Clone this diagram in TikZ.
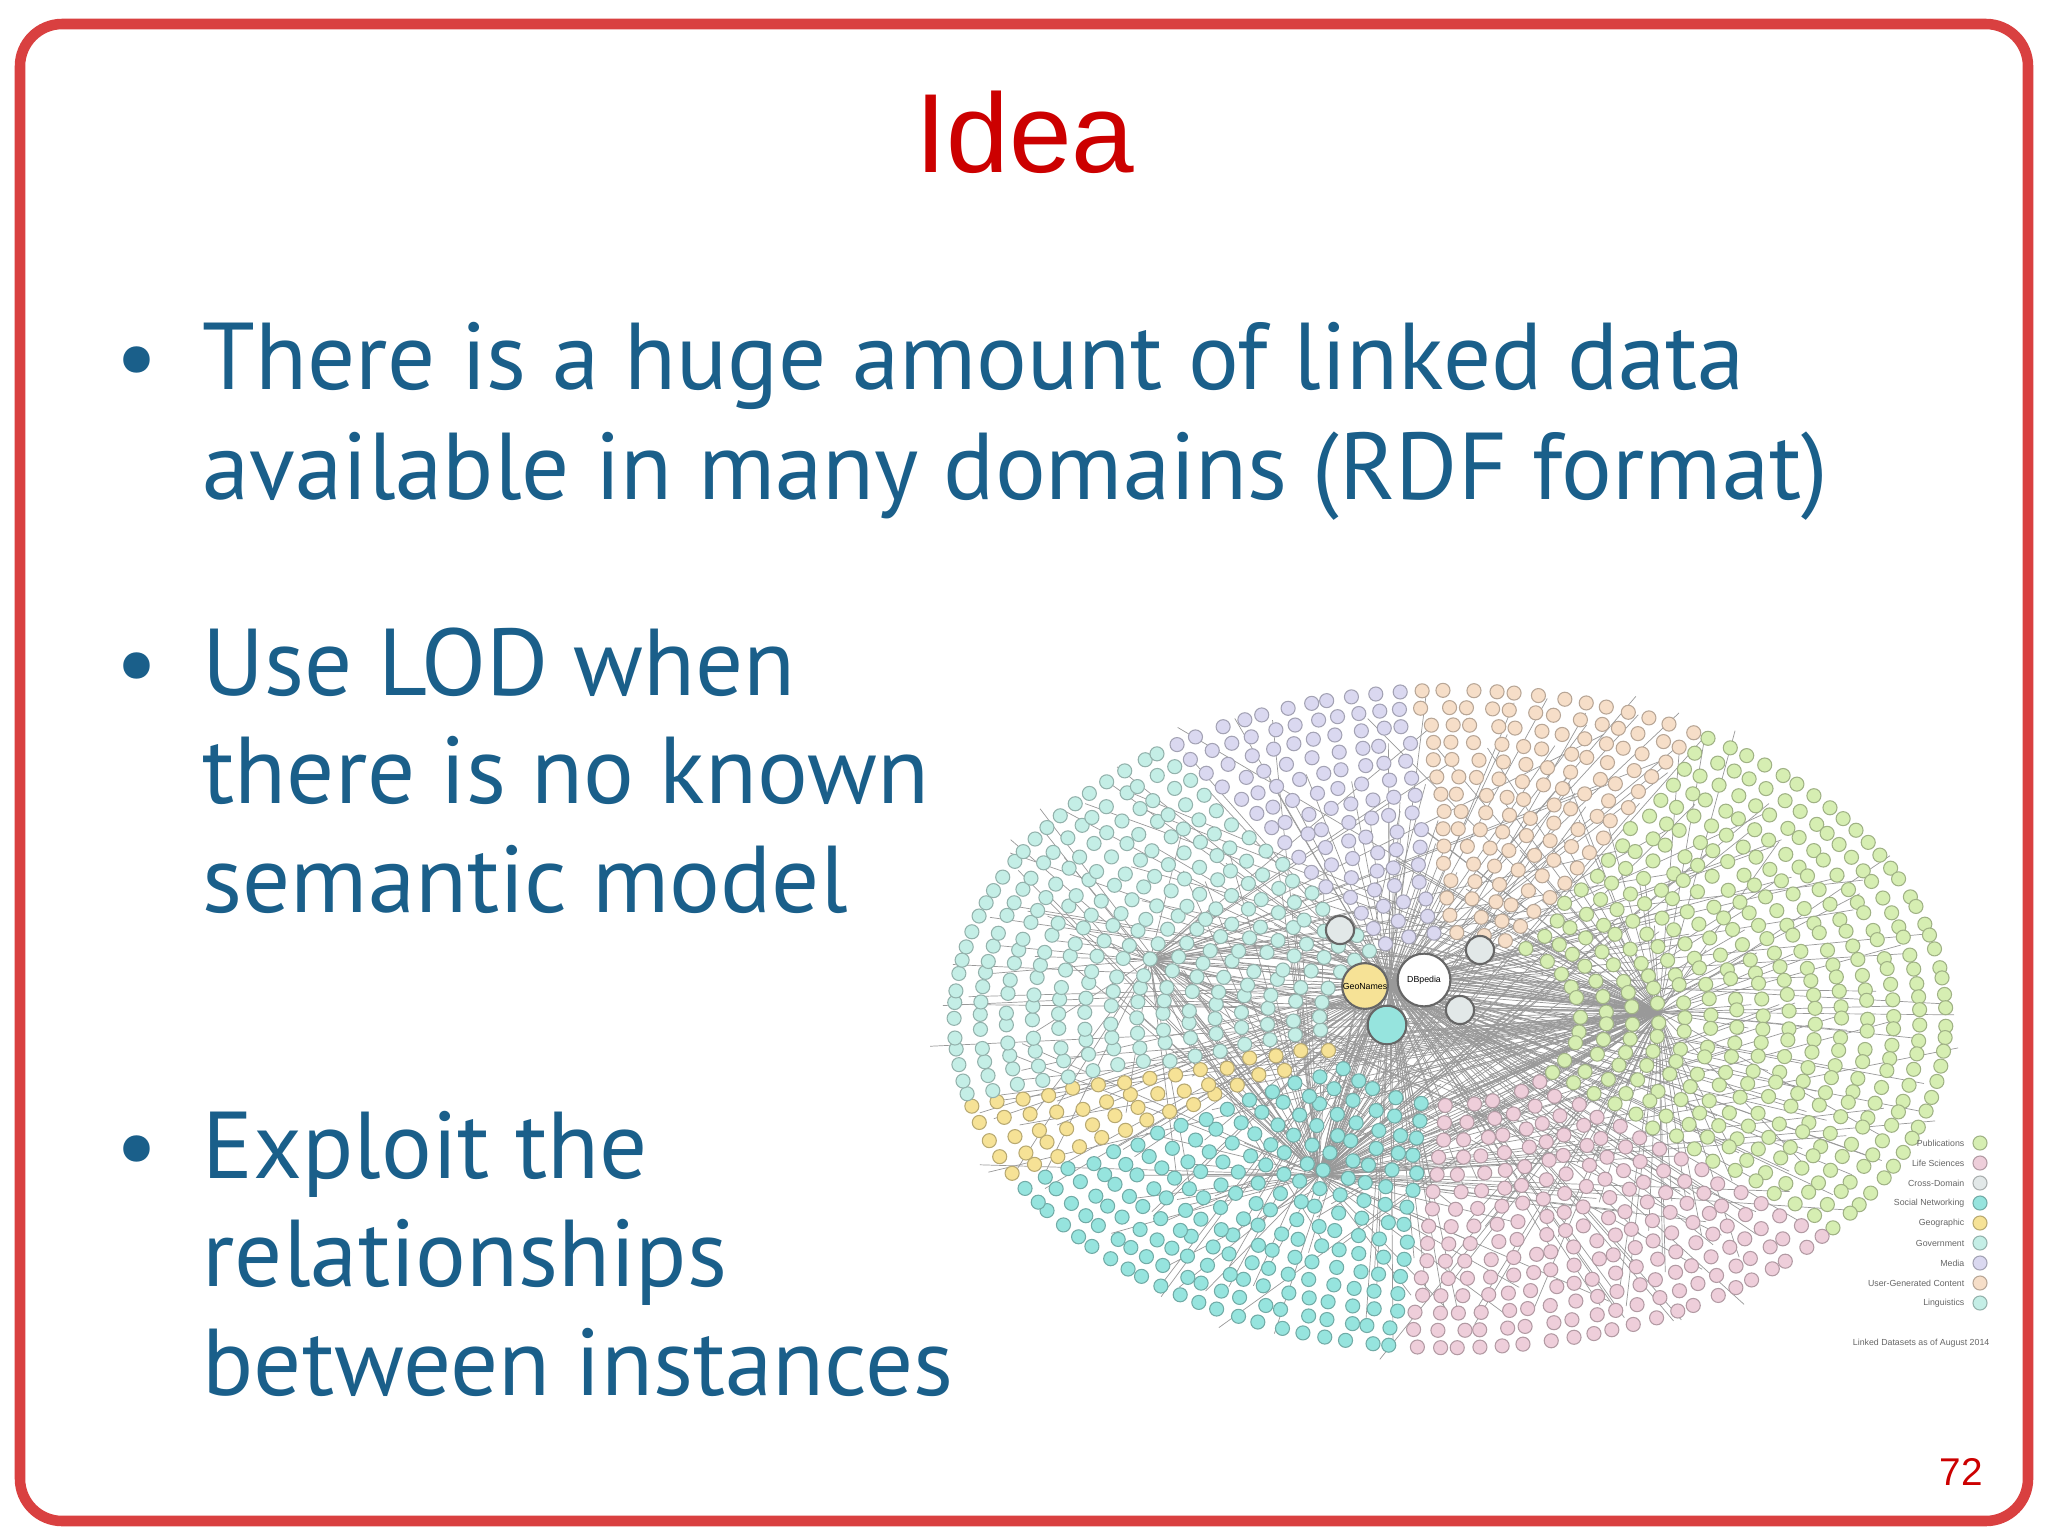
\documentclass[tikz,border=0pt]{standalone}
\usepackage{fontspec}
\setmainfont{Liberation Sans}
\newfontfamily\bodyfont{PT Sans}
\definecolor{slidered}{RGB}{204,0,0}
\definecolor{slideblue}{RGB}{26,95,138}
\definecolor{lodgreen}{RGB}{214,238,178}
\definecolor{lodpink}{RGB}{238,206,218}
\definecolor{lodcyan}{RGB}{150,228,222}
\definecolor{lodlight}{RGB}{196,238,230}
\definecolor{lodyellow}{RGB}{246,226,150}
\definecolor{lodlav}{RGB}{218,216,240}
\definecolor{lodpeach}{RGB}{246,222,200}
\definecolor{lodgrey}{RGB}{226,232,232}
\begin{document}
\begin{tikzpicture}[x=0.01cm,y=-0.01cm,
    bullettext/.style={anchor=base west,font=\bodyfont\fontsize{27}{32}\selectfont,text=slideblue,inner sep=0pt},
    dot/.style={line width=0.3pt},
    hub/.style={draw=black!60,line width=0.6pt},
    legendtext/.style={anchor=east,font=\fontsize{2.5}{3}\selectfont,text=black!60,inner sep=0pt}
  ]
  \useasboundingbox (0,0) rectangle (2048,1536);
  \fill[white] (0,0) rectangle (2048,1536);
  \draw[slidered!75,line width=3pt,rounded corners=12] (20,24) rectangle (2028,1521);

  % title
  \node[font=\fontsize{32}{38}\selectfont,text=slidered,anchor=base] (title) at (1025,172) {Idea};

  % bullets
  \foreach \y in {389,695,1178}{
    \node[font=\bodyfont\fontsize{27}{32}\selectfont,text=slideblue,anchor=base] at (137,\y) {\textbullet};
  }
  \node[bullettext] (b1a) at (202,389) {There is a huge amount of linked data};
  \node[bullettext] (b1b) at (202,499) {available in many domains (RDF format)};
  \node[bullettext] (b2a) at (202,695) {Use LOD when};
  \node[bullettext] (b2b) at (202,803) {there is no known};
  \node[bullettext] (b2c) at (202,912) {semantic model};
  \node[bullettext] (b3a) at (202,1178) {Exploit the};
  \node[bullettext] (b3b) at (202,1286) {relationships};
  \node[bullettext] (b3c) at (202,1395) {between instances};

  % cloud: links
  \pgfmathsetseed{7}
  \foreach \hx/\hy/\m in {1390/985/220,1659/1012/160,1319/1175/140,1150/960/60}{
    \foreach \i in {1,...,\m}{
      \pgfmathsetmacro\ang{rnd*360}
      \pgfmathsetmacro\f{0.15+0.85*rnd}
      \draw[black!40,line width=0.2pt] (\hx,\hy) -- ({1450+522*\f*cos(\ang)},{1019+346*\f*sin(\ang)});
    }
  }
  % cloud: datasets
  \foreach \s/\e/\col in {-60/40/lodgreen,40/95/lodpink,95/150/lodcyan,150/165/lodyellow,165/235/lodlight,235/265/lodlav,265/300/lodpeach}{
    \foreach \f in {0.25,0.3,...,1.0}{
      \pgfmathsetmacro\n{int(max(1,(\e-\s)/360*150*\f))}
      \foreach \k in {1,...,\n}{
        \pgfmathsetmacro\ang{\s+(\k-0.5+0.4*rnd)*(\e-\s)/\n}
        \fill[\col,draw=\col!75!black,dot] ({1450+522*\f*cos(\ang)},{1019+346*\f*sin(\ang)}) circle (2pt);
      }
    }
  }
  % hubs
  \fill[lodgrey,hub] (1340,930) circle (4pt);
  \fill[lodgrey,hub] (1480,950) circle (4pt);
  \fill[lodgrey,hub] (1460,1010) circle (4pt);
  \fill[lodyellow,hub] (1365,986) circle (6.5pt);
  \fill[white,hub] (1424,980) circle (7.5pt);
  \fill[lodcyan,hub] (1387,1025) circle (5.5pt);
  \node[font=\fontsize{2.5}{3}\selectfont] (geo) at (1365,986) {GeoNames};
  \node[font=\fontsize{2.5}{3}\selectfont] (dbp) at (1424,980) {DBpedia};

  % legend
  \foreach \col/\txt [count=\i] in {lodgreen/Publications,lodpink/Life Sciences,lodgrey/Cross-Domain,lodcyan/Social Networking,lodyellow/Geographic,lodlight/Government,lodlav/Media,lodpeach/User-Generated Content,lodlight/Linguistics}{
    \fill[\col,draw=\col!75!black,dot] (1980,{1143+(\i-1)*20}) circle (2pt);
    \node[legendtext] at (1965,{1143+(\i-1)*20}) {\txt};
  }
  \node[legendtext] (legend) at (1990,1343) {Linked Datasets as of August 2014};

  % page number
  \node[font=\fontsize{11}{13}\selectfont,text=slidered,anchor=base east] (page) at (1995,1485) {72};
\end{tikzpicture}
\end{document}
